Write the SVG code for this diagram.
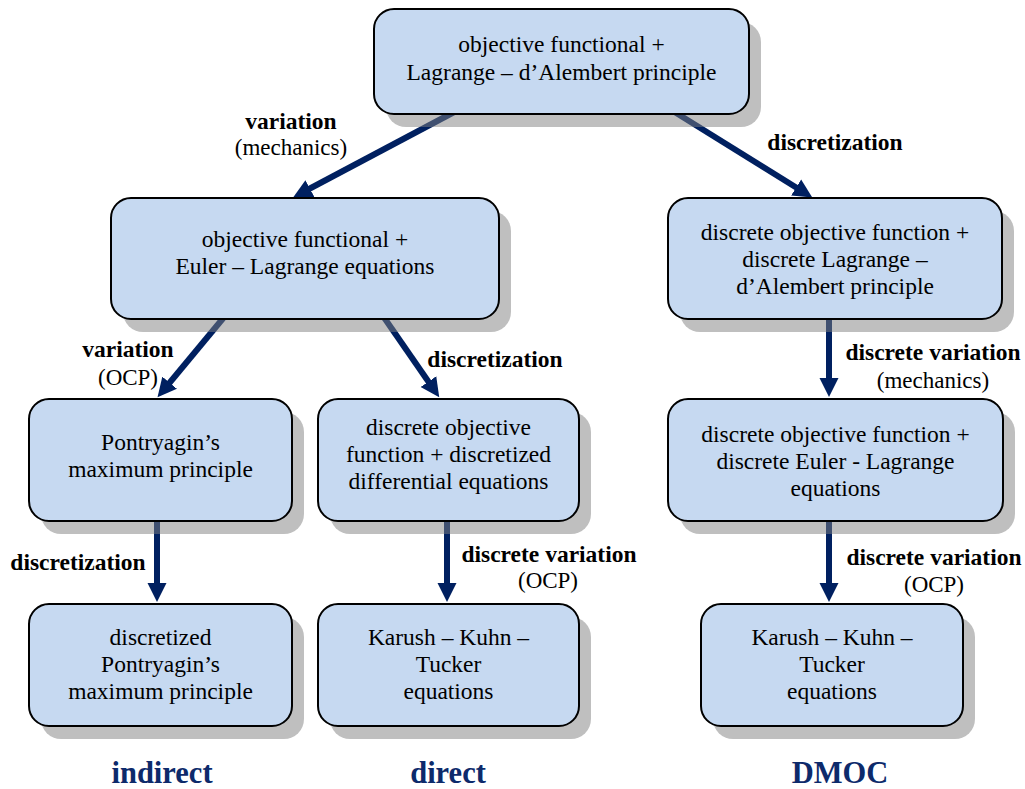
<svg xmlns="http://www.w3.org/2000/svg" width="1025" height="789" viewBox="0 0 1025 789">
<style>
  .shadow { fill: #808080; fill-opacity: 0.5; }
  .box { fill: #c6d9f1; stroke: #000; stroke-width: 2; }
  .t { font-family: "Liberation Serif", "Times New Roman", serif; font-size: 23.5px; fill: #000; text-anchor: middle; }
  .lb { font-family: "Liberation Serif", "Times New Roman", serif; font-size: 23.5px; font-weight: bold; fill: #000; text-anchor: middle; }
  .ln { font-family: "Liberation Serif", "Times New Roman", serif; font-size: 23px; fill: #000; text-anchor: middle; }
  .hd { font-family: "Liberation Serif", "Times New Roman", serif; font-size: 30.5px; font-weight: bold; fill: #0d2a6b; text-anchor: middle; }
  .arr { stroke: #002060; stroke-width: 6; fill: none; marker-end: url(#ah); }
</style>
<defs>
  <marker id="ah" markerUnits="userSpaceOnUse" markerWidth="20" markerHeight="20" viewBox="0 -10 20 20" refX="1" refY="0" orient="auto">
    <path d="M0,-9.5 L19,0 L0,9.5 Z" fill="#002060"/>
  </marker>
</defs>
<rect width="1025" height="789" fill="#fff"/>
<g id="connectors">
  <line class="arr" x1="458" y1="110" x2="309" y2="189"/>
  <line class="arr" x1="673" y1="111" x2="797" y2="188"/>
  <line class="arr" x1="225" y1="316" x2="169" y2="383.5"/>
  <line class="arr" x1="383" y1="316" x2="429" y2="382.5"/>
  <line class="arr" x1="829" y1="316" x2="829" y2="379"/>
  <line class="arr" x1="157" y1="518" x2="157" y2="584"/>
  <line class="arr" x1="447" y1="518" x2="447" y2="584"/>
  <line class="arr" x1="829" y1="518" x2="829" y2="584"/>
</g>
<g id="edge-labels">
  <text class="lb" x="291" y="129">variation</text>
  <text class="ln" x="291" y="155">(mechanics)</text>
  <text class="lb" x="835" y="150">discretization</text>
  <text class="lb" x="128" y="357">variation</text>
  <text class="ln" x="128" y="385">(OCP)</text>
  <text class="lb" x="495" y="367">discretization</text>
  <text class="lb" x="933" y="360">discrete variation</text>
  <text class="ln" x="933" y="388">(mechanics)</text>
  <text class="lb" x="78" y="570">discretization</text>
  <text class="lb" x="549" y="562">discrete variation</text>
  <text class="ln" x="548" y="588">(OCP)</text>
  <text class="lb" x="934" y="565">discrete variation</text>
  <text class="ln" x="934" y="592">(OCP)</text>
</g>
<g id="node-top">
  <rect class="shadow" x="386" y="22" width="375" height="105" rx="20"/>
  <rect class="box" x="374" y="9" width="375" height="105" rx="20"/>
  <text class="t" x="561.5" y="52">objective functional +</text>
  <text class="t" x="561.5" y="80">Lagrange – d’Alembert principle</text>
</g>
<g id="node-euler">
  <rect class="shadow" x="123" y="211" width="388" height="121" rx="20"/>
  <rect class="box" x="111" y="198" width="388" height="121" rx="20"/>
  <text class="t" x="305" y="247">objective functional +</text>
  <text class="t" x="305" y="274">Euler – Lagrange equations</text>
</g>
<g id="node-dlda">
  <rect class="shadow" x="680" y="211" width="334" height="121" rx="20"/>
  <rect class="box" x="668" y="198" width="334" height="121" rx="20"/>
  <text class="t" x="835" y="240">discrete objective function +</text>
  <text class="t" x="835" y="267">discrete Lagrange –</text>
  <text class="t" x="835" y="294">d’Alembert principle</text>
</g>
<g id="node-pmp">
  <rect class="shadow" x="41" y="412" width="263" height="122" rx="20"/>
  <rect class="box" x="29" y="399" width="263" height="122" rx="20"/>
  <text class="t" x="160.5" y="450">Pontryagin’s</text>
  <text class="t" x="160.5" y="477">maximum principle</text>
</g>
<g id="node-direct-mid">
  <rect class="shadow" x="330" y="412" width="261" height="122" rx="20"/>
  <rect class="box" x="318" y="399" width="261" height="122" rx="20"/>
  <text class="t" x="448.5" y="435">discrete objective</text>
  <text class="t" x="448.5" y="462">function + discretized</text>
  <text class="t" x="448.5" y="489">differential equations</text>
</g>
<g id="node-del">
  <rect class="shadow" x="680" y="412" width="335" height="122" rx="20"/>
  <rect class="box" x="668" y="399" width="335" height="122" rx="20"/>
  <text class="t" x="835.5" y="442">discrete objective function +</text>
  <text class="t" x="835.5" y="469">discrete Euler - Lagrange</text>
  <text class="t" x="835.5" y="496">equations</text>
</g>
<g id="node-dpmp">
  <rect class="shadow" x="41" y="617" width="263" height="122" rx="20"/>
  <rect class="box" x="29" y="604" width="263" height="122" rx="20"/>
  <text class="t" x="160.5" y="645">discretized</text>
  <text class="t" x="160.5" y="672">Pontryagin’s</text>
  <text class="t" x="160.5" y="699">maximum principle</text>
</g>
<g id="node-kkt-direct">
  <rect class="shadow" x="330" y="617" width="261" height="122" rx="20"/>
  <rect class="box" x="318" y="604" width="261" height="122" rx="20"/>
  <text class="t" x="448.5" y="645">Karush – Kuhn –</text>
  <text class="t" x="448.5" y="672">Tucker</text>
  <text class="t" x="448.5" y="699">equations</text>
</g>
<g id="node-kkt-dmoc">
  <rect class="shadow" x="713" y="617" width="262" height="122" rx="20"/>
  <rect class="box" x="701" y="604" width="262" height="122" rx="20"/>
  <text class="t" x="832" y="645">Karush – Kuhn –</text>
  <text class="t" x="832" y="672">Tucker</text>
  <text class="t" x="832" y="699">equations</text>
</g>
<g id="column-labels">
  <text class="hd" x="162" y="783">indirect</text>
  <text class="hd" x="448" y="783">direct</text>
  <text class="hd" x="840" y="783">DMOC</text>
</g>
</svg>
